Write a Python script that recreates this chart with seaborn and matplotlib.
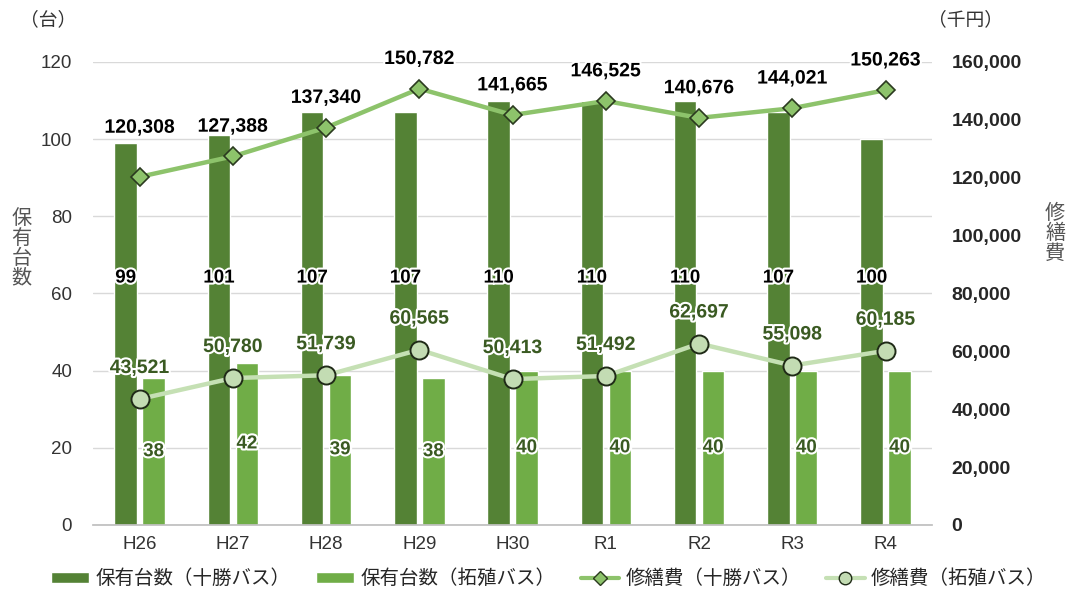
import numpy as np
import pandas as pd
import matplotlib
matplotlib.use("Agg")
import matplotlib.pyplot as plt
import matplotlib.patheffects as pe
from matplotlib.lines import Line2D
from matplotlib.patches import Patch
import seaborn as sns

years = ['H26', 'H27', 'H28', 'H29', 'H30', 'R1', 'R2', 'R3', 'R4']
tokachi_count = [99, 101, 107, 107, 110, 110, 110, 107, 100]
takushoku_count = [38, 42, 39, 38, 40, 40, 40, 40, 40]
tokachi_cost = [120308, 127388, 137340, 150782, 141665, 146525, 140676, 144021, 150263]
takushoku_cost = [43521, 50780, 51739, 60565, 50413, 51492, 62697, 55098, 60185]

s_count_t = '保有台数（十勝バス）'
s_count_k = '保有台数（拓殖バス）'
s_cost_t = '修繕費（十勝バス）'
s_cost_k = '修繕費（拓殖バス）'

sns.set_theme(style='white')
FONT = ['Liberation Sans', 'Noto Sans CJK JP', 'DejaVu Sans']
plt.rcParams['font.family'] = FONT

C_DARK = '#548235'
C_LIGHT = '#70AD47'
C_LINE_T = '#8DC36B'
C_LINE_K = '#C5E0B4'
C_LBL_K = '#3A5A22'

bars = pd.DataFrame({
    'year': years * 2,
    'count': tokachi_count + takushoku_count,
    'series': [s_count_t] * len(years) + [s_count_k] * len(years),
})

fig = plt.figure(figsize=(10.69, 5.92), dpi=100)
ax = fig.add_axes([0.087, 0.1132, 0.785, 0.7821])

sns.barplot(data=bars, x='year', y='count', hue='series', order=years,
            hue_order=[s_count_t, s_count_k], palette=[C_DARK, C_LIGHT],
            width=0.6, gap=0.2, legend=False, ax=ax, saturation=1)

ax.set_ylim(0, 120)
ax.set_xlim(-0.5, len(years) - 0.5)
ax.set_yticks(range(0, 121, 20))
ax.yaxis.grid(True, color='#D9D9D9', linewidth=1)
ax.set_axisbelow(True)
for s in ['top', 'right', 'left']:
    ax.spines[s].set_visible(False)
ax.spines['bottom'].set_color('#BFBFBF')
ax.set_xlabel('')
ax.set_ylabel('')
ax.tick_params(axis='y', labelsize=13.5, labelcolor='#333333', length=0, pad=15)
ax.tick_params(axis='x', labelsize=13.5, labelcolor='#333333', length=0, pad=8)

stroke = [pe.withStroke(linewidth=3, foreground='white')]
for i in range(len(years)):
    ax.text(i - 0.15, 64, str(tokachi_count[i]), ha='center', va='center',
            fontsize=13.5, fontweight='bold', color='black', path_effects=stroke)
    ax.text(i + 0.15, takushoku_count[i] / 2, str(takushoku_count[i]), ha='center', va='center',
            fontsize=13.5, fontweight='bold', color=C_LBL_K, path_effects=stroke)

ax2 = ax.twinx()
xs = np.arange(len(years))
sns.lineplot(x=xs, y=tokachi_cost, ax=ax2, color=C_LINE_T, linewidth=3.2,
             marker='D', markersize=9, markerfacecolor='#8DC36B',
             markeredgecolor='#2B3A1F', markeredgewidth=1.2, legend=False)
sns.lineplot(x=xs, y=takushoku_cost, ax=ax2, color=C_LINE_K, linewidth=3.2,
             marker='o', markersize=13, markerfacecolor='#C3DCB3',
             markeredgecolor='#1F2A17', markeredgewidth=1.4, legend=False)
ax2.set_ylim(0, 160000)
ax2.set_yticks(range(0, 160001, 20000))
ax2.set_yticklabels([f'{v:,}' for v in range(0, 160001, 20000)])
ax2.tick_params(axis='y', labelsize=14, length=0, pad=14)
for t in ax2.get_yticklabels():
    t.set_fontweight('bold')
for s in ['top', 'right', 'left', 'bottom']:
    ax2.spines[s].set_visible(False)
ax2.set_ylabel('')
ax2.set_xlim(-0.5, len(years) - 0.5)

t_offsets = [35, 21, 21, 21, 21, 21, 21, 21, 21]
for i in range(len(years)):
    ax2.annotate(f'{tokachi_cost[i]:,}', (xs[i], tokachi_cost[i]), xytext=(0, t_offsets[i]),
                 textcoords='offset points', ha='center', va='center',
                 fontsize=14, fontweight='bold', color='black', path_effects=stroke)
    ax2.annotate(f'{takushoku_cost[i]:,}', (xs[i], takushoku_cost[i]), xytext=(0, 22),
                 textcoords='offset points', ha='center', va='center',
                 fontsize=14, fontweight='bold', color=C_LBL_K, path_effects=stroke)

fig.text(0.045, 0.965, '（台）', ha='center', va='center', fontsize=13.5, color='#333333')
fig.text(0.903, 0.965, '（千円）', ha='center', va='center', fontsize=13.5, color='#333333')
fig.text(0.020, 0.581, '\n'.join('保有台数'), ha='center', va='center', fontsize=14.5,
         color='#555555', linespacing=1.05)
fig.text(0.987, 0.606, '\n'.join('修繕費'), ha='center', va='center', fontsize=14.5,
         color='#555555', linespacing=1.05)

handles = [
    Patch(facecolor=C_DARK, label=s_count_t),
    Patch(facecolor=C_LIGHT, label=s_count_k),
    Line2D([], [], color=C_LINE_T, linewidth=3, marker='D', markersize=7,
           markerfacecolor='#8DC36B', markeredgecolor='#2B3A1F', label=s_cost_t),
    Line2D([], [], color=C_LINE_K, linewidth=3, marker='o', markersize=9,
           markerfacecolor='#C3DCB3', markeredgecolor='#1F2A17', label=s_cost_k),
]
fig.legend(handles=handles, loc='center', bbox_to_anchor=(0.513, 0.022), ncol=4,
           frameon=False, fontsize=14, handlelength=2.0, handleheight=0.45,
           columnspacing=1.3, handletextpad=0.3)

fig.savefig('out.png', dpi=100)
